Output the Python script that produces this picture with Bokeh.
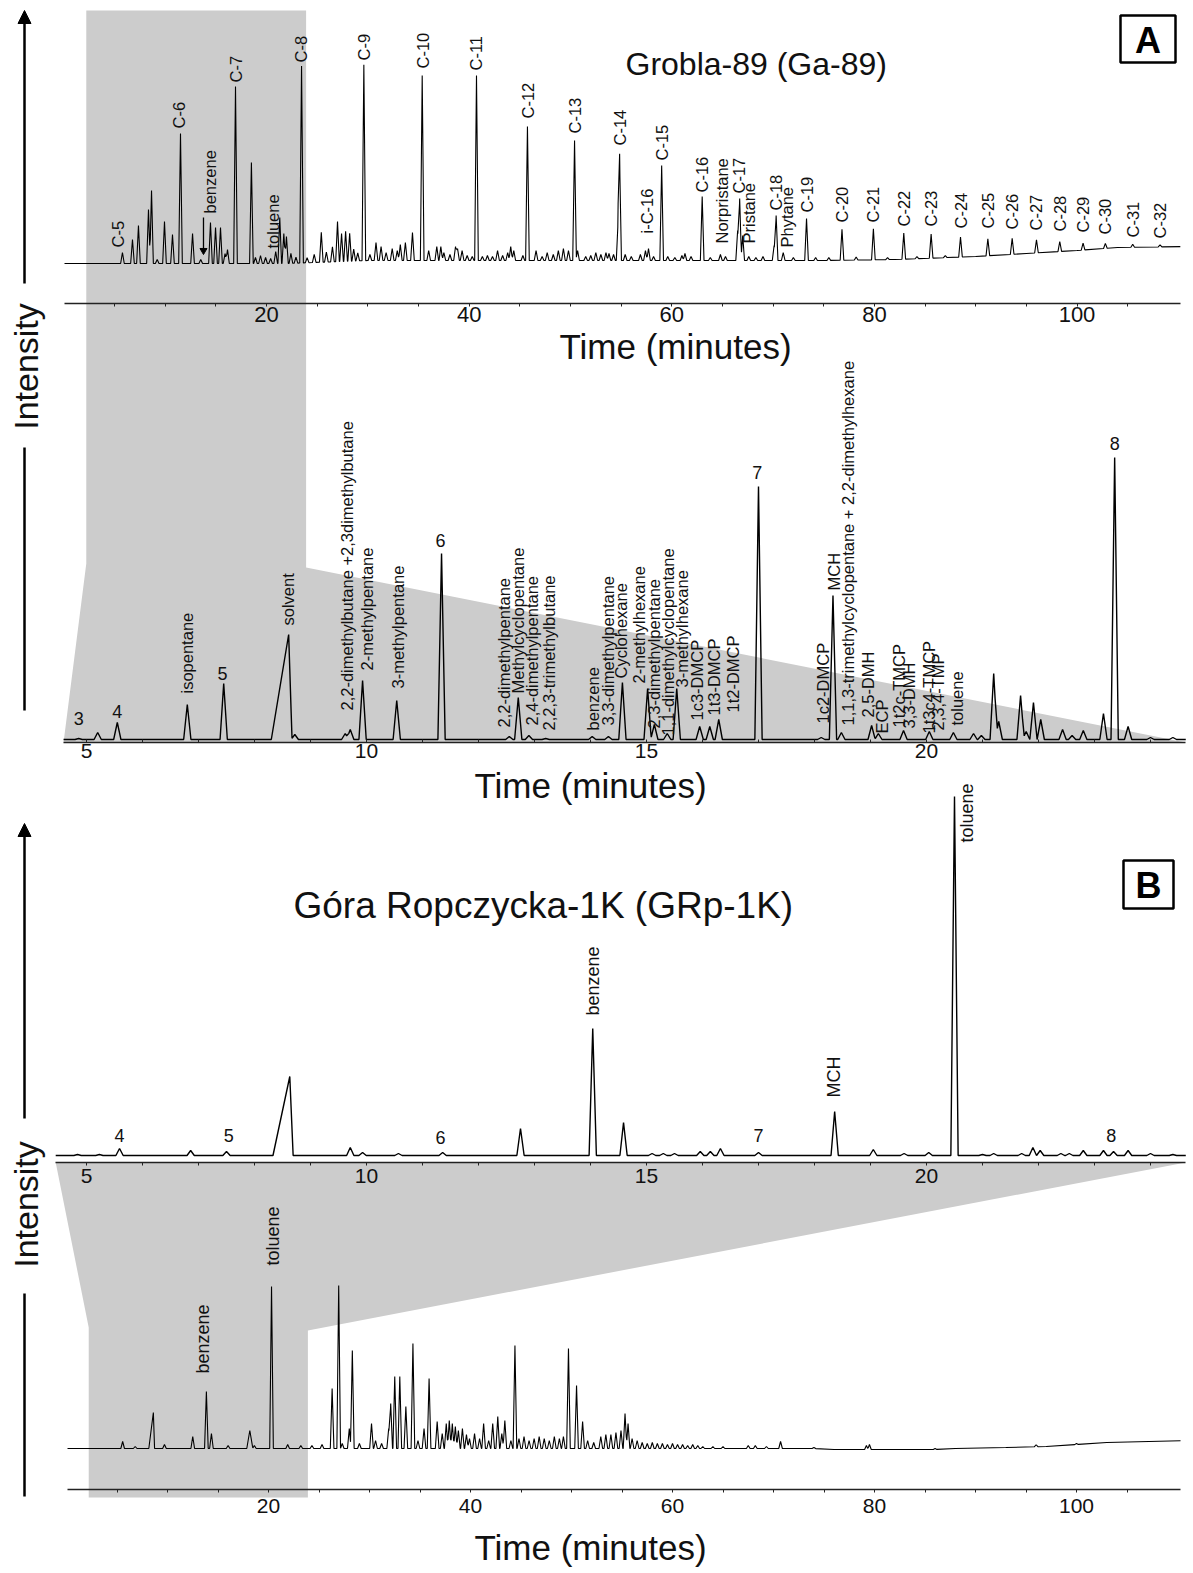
import numpy as np
from bokeh.plotting import figure
from bokeh.models import (Range1d, LinearAxis, FixedTicker, Arrow, NormalHead,
                          Label, ColumnDataSource)
from bokeh.embed import file_html
from bokeh.resources import INLINE
from bokeh.core.properties import value

FONT = "Liberation Sans"

# ======================= DATA =======================
# --- A: Grobla-89 (Ga-89), whole run: retention time (min), relative intensity
ga_full_time = [5.77, 6.76, 7.35, 8.34, 8.64, 9.2, 9.92, 10.71, 11.50, 12.69, 13.5, 14.46, 14.96, 15.45, 15.9,
                16.14, 16.93, 18.5, 18.9, 19.4, 19.9, 20.4, 20.9, 21.3, 21.7, 21.96, 22.4, 22.9, 23.45, 24.0,
                24.7, 25.4, 25.9, 26.5, 27.0, 27.4, 27.8, 28.2, 28.6, 29.0, 29.6, 30.2, 30.8, 31.3, 31.8,
                32.4, 32.9, 33.2, 33.7, 34.4, 35.36, 36.0, 36.8, 37.2, 37.5, 38.1, 38.65, 38.85, 39.3, 39.8,
                40.3, 40.72, 41.3, 41.8, 42.3, 42.8, 43.3, 43.8, 44.1, 44.4, 45.3, 45.75, 46.6, 47.2, 47.7,
                48.3, 48.8, 49.3, 49.8, 50.4, 50.7, 51.5, 52.0, 52.5, 53.0, 53.5, 53.8, 54.25, 54.7, 54.85,
                55.4, 56.0, 56.9, 57.4, 57.7, 58.2, 59.0, 59.6, 60.3, 61.0, 61.3, 61.9, 63.0, 63.8, 64.8,
                65.3, 66.5, 66.7, 67.0, 67.6, 68.3, 69.0, 70.1, 70.3, 71.0, 72.0, 73.3, 74.2, 75.5, 76.8,
                78.2, 79.9, 81.3, 82.9, 84.2, 85.6, 87.0, 88.5, 91.2, 93.6, 96.0, 98.3, 100.6, 102.8, 105.5,
                108.2]
ga_full_height = [11, 24, 38, 54, 73, 4, 42, 29, 130, 30, 4, 41, 36, 36, 10,
                  14, 177, 101, 6, 8, 6, 5, 12, 46, 30, 27, 10, 6, 197, 5,
                  8, 30, 10, 15, 40, 28, 30, 28, 12, 8, 196, 6, 18, 14, 8,
                  12, 10, 16, 18, 28, 185, 10, 14, 14, 8, 6, 14, 12, 10, 5,
                  4, 185, 4, 5, 4, 10, 5, 8, 14, 10, 5, 134, 10, 4, 8,
                  6, 10, 12, 10, 120, 10, 4, 5, 8, 6, 8, 7, 6, 40, 100,
                  6, 4, 6, 10, 12, 4, 95, 4, 3, 5, 7, 4, 64, 3, 6,
                  4, 30, 62, 25, 4, 3, 4, 15, 45, 8, 3, 42, 3, 3, 31,
                  3, 31, 2, 26, 2, 24, 2, 20, 17, 16, 13, 10, 7, 5, 3,
                  2]
ga_full_base_time = [0, 22, 30, 75, 82, 90, 95, 100, 104, 111]
ga_full_base_level = [0, 0, 3, 3, 4, 7, 10, 13, 16, 17]
ga_full_names = ["C-5", "C-6", "benzene", "C-7", "toluene", "C-8", "C-9", "C-10", "C-11", "C-12", "C-13",
                 "C-14", "i-C-16", "C-15", "C-16", "Norpristane", "C-17", "Pristane", "C-18", "Phytane",
                 "C-19", "C-20", "C-21", "C-22", "C-23", "C-24", "C-25", "C-26", "C-27", "C-28", "C-29",
                 "C-30", "C-31", "C-32"]
ga_full_name_time = [5.38, 11.4, 14.46, 16.93, 20.68, 23.4, 29.6, 35.4, 40.7, 45.8, 50.4,
                     54.85, 57.6, 59.0, 63.0, 65.0, 66.6, 67.6, 70.3, 71.4,
                     73.3, 76.8, 79.9, 82.9, 85.6, 88.5, 91.2, 93.6, 96.0, 98.3, 100.6,
                     102.8, 105.5, 108.2]
ga_full_name_level = [16, 135, 50, 181, 15, 201, 203, 195, 193, 145, 130,
                      118, 30, 103, 71, 20, 70, 20, 53, 16,
                      51, 41, 41, 37, 37, 35, 35, 34, 33, 32, 31,
                      29, 26, 25]
ga_full_benzene_arrow = (13.77, 46, 10)   # time, from level, to level

# --- A: Ga-89, light-hydrocarbon window
ga_zoom_time = [4.86, 5.2, 5.55, 6.8, 7.45, 8.61, 8.72, 9.62, 9.71, 9.93, 10.54, 11.34, 12.55, 12.71, 12.9,
                13.2, 14.03, 14.32, 14.57, 15.02, 15.14, 15.37, 15.54, 15.95, 16.13, 16.29, 17.0, 18.12,
                18.33, 18.48, 19.02, 19.14, 19.59, 20.05, 20.48, 20.84, 20.98, 21.2, 21.29, 21.68, 21.78,
                21.91, 22.04, 22.43, 22.6, 22.8, 23.16, 23.36, 23.6, 24.0, 24.4]
ga_zoom_height = [1, 7, 17, 35, 56, 105, 5, 6, 10, 59, 39, 186, 3, 42, 4,
                  1, 3, 3, 57, 51, 15, 6, 51, 13, 13, 20, 253, 2,
                  144, 7, 14, 6, 9, 8, 7, 6, 4, 66, 18, 44, 8,
                  37, 20, 10, 4, 9, 26, 282, 13, 2, 2]
ga_zoom_numbers = ["3", "4", "5", "6", "7", "8"]
ga_zoom_number_time = [4.86, 5.55, 7.43, 11.32, 16.98, 23.36]
ga_zoom_number_level = [21, 28, 66, 199, 267, 296]
ga_zoom_names = ["isopentane", "solvent", "2,2-dimethylbutane +2,3dimethylbutane", "2-methylpentane",
                 "3-methylpentane", "2,2-dimethylpentane", "Methylcyclopentane", "2,4-dimethylpentane",
                 "2,2,3-trimethylbutane", "benzene", "3,3-dimethylpentane", "Cyclohexane", "2-methylhexane",
                 "2,3-dimethylpentane", "1,1-dimethylcyclopentane", "3-methylhexane", "1c3-DMCP",
                 "1t3-DMCP", "1t2-DMCP", "1c2-DMCP", "MCH",
                 "1,1,3-trimethylcyclopentane + 2,2-dimethylhexane", "2,5-DMH", "ECP", "1t2c-TMCP",
                 "3,3-DMH", "1t3c4-TMCP", "2,3,4-TMP", "toluene"]
ga_zoom_name_time = [6.8, 8.59, 9.66, 10.0, 10.57, 12.45, 12.71, 12.96, 13.25, 14.05, 14.32, 14.55, 14.86,
                     15.13, 15.39, 15.64, 15.91, 16.2, 16.54, 18.16, 18.34, 18.6, 18.96, 19.21, 19.5,
                     19.68, 20.04, 20.2, 20.55]
ga_zoom_name_level = [46, 114, 29, 69, 51, 12, 46, 14, 9, 9, 14, 61, 56,
                      11, 4, 52, 19, 24, 27, 16, 149, 14, 22, 6, 12,
                      11, 6, 9, 14]

# --- B: Góra Ropczycka-1K (GRp-1K), light-hydrocarbon window
grp_zoom_time = [4.84, 5.23, 5.59, 6.86, 7.5, 8.63, 9.71, 9.93, 10.57, 11.36, 12.75, 14.04, 14.59, 15.1,
                 15.3, 15.5, 15.96, 16.14, 16.32, 17.0, 18.36, 19.05, 19.6, 20.04, 20.5, 21.0, 21.2, 21.7,
                 21.9, 22.03, 22.4, 22.55, 22.8, 23.16, 23.34, 23.6, 24.0, 24.4]
grp_zoom_height = [1, 1, 7, 5, 4, 79, 8, 3, 2, 3, 27, 127, 33, 2,
                   2, 2, 4, 4, 7, 3, 44, 6, 2, 3, 359, 1, 2, 2,
                   8, 5, 2, 2, 5, 5, 4, 5, 2, 1]
grp_zoom_numbers = ["4", "5", "6", "7", "8"]
grp_zoom_number_time = [5.59, 7.54, 11.32, 17.0, 23.3]
grp_zoom_number_level = [20, 20, 18, 20, 20]
grp_zoom_names = ["benzene", "MCH", "toluene"]
grp_zoom_name_time = [14.04, 18.34, 20.73]
grp_zoom_name_level = [140, 58, 313]

# --- B: GRp-1K, whole run
grp_full_time = [5.56, 6.8, 8.6, 9.7, 12.5, 13.85, 14.35, 16.0, 18.15, 18.6, 20.3, 21.9, 23.2, 24.3, 25.3,
                 26.3, 26.95, 27.3, 28.0, 28.3, 29.0, 30.2, 30.6, 31.2, 31.9, 32.1, 32.5, 33.0, 33.6, 34.3,
                 34.8, 35.4, 35.9, 36.7, 37.2, 37.6, 37.9, 38.2, 38.5, 38.8, 39.2, 39.6, 39.9, 40.4, 40.9,
                 41.3, 41.8, 42.2, 42.7, 43.1, 43.4, 44.0, 44.4, 44.8, 45.3, 45.8, 46.3, 46.8, 47.3, 47.8,
                 48.3, 48.8, 49.2, 49.7, 50.5, 51.1, 51.6, 52.2, 52.9, 53.4, 53.9, 54.4, 54.9, 55.3, 55.6,
                 56.0, 56.5, 57.0, 57.5, 58.0, 58.5, 59.0, 59.5, 60.0, 60.5, 61.0, 61.5, 62.0, 62.5, 63.0,
                 64.0, 65.0, 67.5, 68.2, 69.3, 70.7, 74.0, 79.2, 79.5, 86.0, 96.0, 100.0]
grp_full_height = [7, 2, 36, 4, 12, 57, 15, 3, 18, 3, 162, 4, 3, 3, 4,
                   60, 163, 5, 20, 98, 5, 25, 8, 5, 20, 45, 72, 72, 42, 105,
                   8, 20, 70, 27, 15, 25, 28, 25, 22, 18, 20, 14, 10, 15, 10,
                   25, 8, 25, 32, 15, 28, 8, 103, 10, 12, 8, 10, 12, 10, 8,
                   12, 10, 12, 100, 63, 27, 8, 6, 12, 14, 14, 16, 18, 35, 25,
                   10, 8, 6, 5, 6, 5, 5, 4, 5, 4, 4, 3, 4, 3, 2,
                   2, 2, 3, 3, 2, 7, 1, 4, 5, 1, 2, 1]
grp_full_base_time = [0, 74, 76, 86, 88, 93, 97, 100, 103, 111]
grp_full_base_level = [0, 0, -1, -1, 0, 1, 2, 4, 6, 8]
grp_full_names = ["benzene", "toluene"]
grp_full_name_time = [13.56, 20.4]
grp_full_name_level = [75, 183]

# window of the whole run that is enlarged below it
zoom_window = (2.2, 23.9)

# ======================= LAYOUT (page pixels) =======================
W, H = 1190, 1570
X_LO, X_HI, Y_TOP, Y_BOT = 0, W, 0, H
PANELS = {
    "ga_full": dict(x0=63.5, ppm=10.13, base=263, axis=303, bounds=(0.05, 110.2),
                    ticks=[20, 40, 60, 80, 100], minor=[t for t in range(5, 110, 5) if t % 20],
                    tick_size="22px", tick_out=3, tick_in=0, standoff=0),
    "ga_zoom": dict(x0=86 - 5 * 56, ppm=56.0, base=739, axis=742, bounds=(4.59, 24.63),
                    ticks=[5, 10, 15, 20], minor=[t for t in range(5, 25) if t % 5],
                    tick_size="21px", tick_out=0, tick_in=3, standoff=1),
    "grp_zoom": dict(x0=86 - 5 * 56, ppm=56.0, base=1155, axis=1162, bounds=(4.45, 24.63),
                     ticks=[5, 10, 15, 20], minor=[t for t in range(5, 25) if t % 5],
                     tick_size="21px", tick_out=3, tick_in=0, standoff=3),
    "grp_full": dict(x0=66.0, ppm=10.1, base=1448, axis=1489, bounds=(0.1, 110.3),
                     ticks=[20, 40, 60, 80, 100], minor=[t for t in range(5, 110, 5) if t % 20],
                     tick_size="21px", tick_out=3, tick_in=0, standoff=6),
}


def px(name, t):
    c = PANELS[name]
    return c["x0"] + c["ppm"] * t


def build_trace(times, heights, span, hw, base_t, base_v, wide=None):
    times = np.asarray(times, float)
    heights = np.asarray(heights, float)
    wl = np.full(len(times), hw)
    wr = np.full(len(times), hw)
    for (tt, l, r) in (wide or []):
        i = int(np.argmin(np.abs(times - tt)))
        wl[i], wr[i] = l, r
    pts = np.concatenate([[span[0], span[1]], times - wl, times, times + wr, base_t])
    pts = np.unique(pts[(pts >= span[0]) & (pts <= span[1])])
    y = np.interp(pts, base_t, base_v)
    for t, h, l, r in zip(times, heights, wl, wr):
        m = (pts >= t - l) & (pts <= t)
        y[m] += h * (pts[m] - (t - l)) / l
        m = (pts > t) & (pts <= t + r)
        y[m] += h * ((t + r) - pts[m]) / r
    return pts, y


p = figure(width=W, height=H, x_range=Range1d(X_LO, X_HI), y_range=Range1d(Y_BOT, Y_TOP),
           output_backend="svg", toolbar_location=None, x_axis_location=None, y_axis_location=None,
           min_border=0, outline_line_color=None, background_fill_color="white")
p.grid.visible = False

for name, c in PANELS.items():
    p.extra_x_ranges[name] = Range1d((X_LO - c["x0"]) / c["ppm"], (X_HI - c["x0"]) / c["ppm"])
    p.extra_y_ranges[name] = Range1d(c["base"] - Y_BOT, c["base"] - Y_TOP)

# ---------------- grey zoom connectors ----------------
GREY = "#cccccc"
a_l, a_r = px("ga_full", zoom_window[0]), px("ga_full", zoom_window[1])
za = PANELS["ga_zoom"]
p.patch([a_l, a_r, a_r, px("ga_zoom", za["bounds"][1]), px("ga_zoom", za["bounds"][0]), a_l],
        [10, 10, 567, za["axis"], za["axis"], 563], fill_color=GREY, line_color=None)
b_l, b_r = px("grp_full", zoom_window[0]), px("grp_full", zoom_window[1])
zb = PANELS["grp_zoom"]
p.patch([px("grp_zoom", zb["bounds"][0]), px("grp_zoom", zb["bounds"][1]), b_r, b_r, b_l, b_l],
        [zb["axis"], zb["axis"], 1330, 1497, 1497, 1327], fill_color=GREY, line_color=None)

# ---------------- axes ----------------
for name, c in PANELS.items():
    ax = LinearAxis(x_range_name=name, y_range_name=name, fixed_location=c["base"] - c["axis"],
                    bounds=c["bounds"], ticker=FixedTicker(ticks=c["ticks"], minor_ticks=c["minor"]))
    ax.axis_line_color = "#222222"
    ax.axis_line_width = 1.6
    ax.major_tick_line_color = "#222222"
    ax.minor_tick_line_color = "#222222"
    ax.major_tick_out = c["tick_out"]
    ax.major_tick_in = c["tick_in"]
    ax.minor_tick_out = c["tick_out"]
    ax.minor_tick_in = c["tick_in"]
    ax.major_label_standoff = c["standoff"]
    ax.major_label_text_font = FONT
    ax.major_label_text_font_size = c["tick_size"]
    ax.major_label_text_color = "#111111"
    p.add_layout(ax, "below")

# ---------------- traces ----------------
tr = build_trace(ga_full_time, ga_full_height, PANELS["ga_full"]["bounds"], 0.18,
                 ga_full_base_time, ga_full_base_level)
p.line(tr[0], tr[1], x_range_name="ga_full", y_range_name="ga_full", line_color="black", line_width=1.1)

tr = build_trace(ga_zoom_time, ga_zoom_height, PANELS["ga_zoom"]["bounds"], 0.065, [0, 30], [0, 0],
                 wide=[(8.61, 0.31, 0.06)])
p.line(tr[0], tr[1], x_range_name="ga_zoom", y_range_name="ga_zoom", line_color="black", line_width=1.4)

tr = build_trace(grp_zoom_time, grp_zoom_height, PANELS["grp_zoom"]["bounds"], 0.065, [0, 30], [0, 0],
                 wide=[(8.63, 0.30, 0.06)])
p.line(tr[0], tr[1], x_range_name="grp_zoom", y_range_name="grp_zoom", line_color="black", line_width=1.4)

tr = build_trace(grp_full_time, grp_full_height, PANELS["grp_full"]["bounds"], 0.18,
                 grp_full_base_time, grp_full_base_level, wide=[(8.6, 0.45, 0.12), (18.15, 0.3, 0.3)])
p.line(tr[0], tr[1], x_range_name="grp_full", y_range_name="grp_full", line_color="black", line_width=1.1)


# ---------------- peak labels ----------------
def vlabels(name, texts, times, levels, size):
    src = ColumnDataSource(dict(x=times, y=levels, text=texts))
    p.text(x="x", y="y", text="text", source=src, angle=np.pi / 2, text_align="left",
           text_baseline="middle", text_font=value(FONT), text_font_size=size, text_color="#111111",
           x_range_name=name, y_range_name=name)


def hlabels(name, texts, times, levels, size):
    src = ColumnDataSource(dict(x=times, y=levels, text=texts))
    p.text(x="x", y="y", text="text", source=src, text_align="center", text_baseline="middle",
           text_font=value(FONT), text_font_size=size, text_color="#111111",
           x_range_name=name, y_range_name=name)


vlabels("ga_full", ga_full_names, ga_full_name_time, ga_full_name_level, "16.5px")
vlabels("ga_zoom", ga_zoom_names, ga_zoom_name_time, ga_zoom_name_level, "16.5px")
hlabels("ga_zoom", ga_zoom_numbers, ga_zoom_number_time, ga_zoom_number_level, "18px")
vlabels("grp_zoom", grp_zoom_names, grp_zoom_name_time, grp_zoom_name_level, "18px")
hlabels("grp_zoom", grp_zoom_numbers, grp_zoom_number_time, grp_zoom_number_level, "18px")
vlabels("grp_full", grp_full_names, grp_full_name_time, grp_full_name_level, "18px")

# benzene arrow on the whole Ga-89 run
bt, b0, b1 = ga_full_benzene_arrow
p.segment(x0=[bt], y0=[b0], x1=[bt], y1=[b1 + 4], x_range_name="ga_full", y_range_name="ga_full",
          line_color="black", line_width=1.3)
p.scatter(x=[bt], y=[b1 + 3], marker="inverted_triangle", size=7, color="black",
          x_range_name="ga_full", y_range_name="ga_full")

# ---------------- intensity arrows ----------------
for (y0, y1, ly, l0, l1) in [(283, 10, 366, 447, 710), (1118, 823, 1204, 1293, 1496)]:
    p.add_layout(Arrow(end=NormalHead(size=13, fill_color="black", line_color="black"),
                       x_start=24, y_start=y0, x_end=24, y_end=y1, line_width=2.5, line_color="black"))
    p.segment(x0=[24], y0=[l0], x1=[24], y1=[l1], line_color="black", line_width=2.5)
    p.add_layout(Label(x=25, y=ly, text="Intensity", angle=np.pi / 2, text_align="center",
                       text_baseline="middle", text_font=FONT, text_font_size="34px", text_color="#111111"))

# ---------------- titles, panel letters, axis titles ----------------
p.add_layout(Label(x=625, y=63, text="Grobla-89 (Ga-89)", text_align="left", text_baseline="alphabetic",
                   text_font=FONT, text_font_size="32px", text_color="#111111"))
p.add_layout(Label(x=293, y=905, text="Góra Ropczycka-1K (GRp-1K)", text_align="left",
                   text_baseline="alphabetic", text_font=FONT, text_font_size="37px", text_color="#111111"))
for (l, t, r, b, letter) in [(1120, 15, 1175, 62, "A"), (1123, 860, 1173, 908, "B")]:
    p.quad(left=[l], right=[r], top=[t], bottom=[b], fill_color=None, line_color="black", line_width=2.5)
    p.add_layout(Label(x=(l + r) / 2, y=(t + b) / 2 + 1, text=letter, text_align="center",
                       text_baseline="middle", text_font=FONT, text_font_size="36px",
                       text_font_style="bold", text_color="black"))
for (x, y) in [(675, 346), (590, 785), (590, 1547)]:
    p.add_layout(Label(x=x, y=y, text="Time (minutes)", text_align="center", text_baseline="middle",
                       text_font=FONT, text_font_size="35px", text_color="#111111"))

with open("out.html", "w", encoding="utf-8") as f:
    f.write(file_html(p, INLINE))
